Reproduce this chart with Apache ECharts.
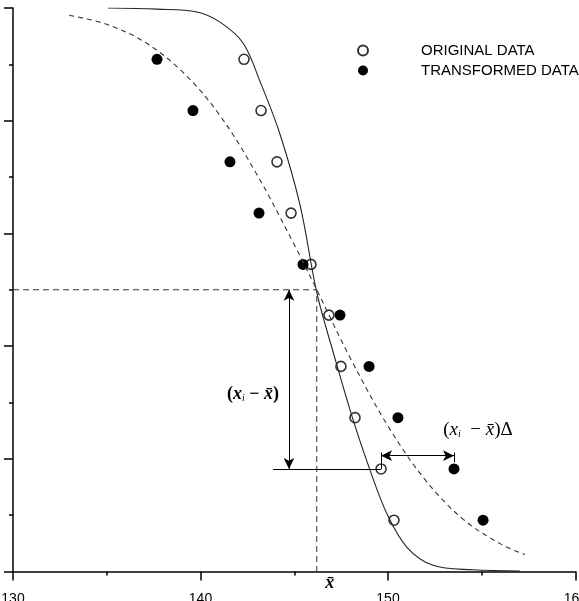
<!DOCTYPE html>
<html lang="en">
<head>
    <meta charset="UTF-8">
    <title>Original vs transformed data</title>
    <style>
        html, body { margin: 0; padding: 0; background: #fff; }
    </style>
</head>
<body>
<div id="chart" style="width: 579px; height: 601px;"></div>
<script src="https://cdn.jsdelivr.net/npm/echarts@6/dist/echarts.min.js"></script>
<script>
    // points
    var probY = [0.909, 0.818, 0.727, 0.636, 0.545, 0.455, 0.364, 0.273, 0.182, 0.091];
    var origX = [142.32, 143.23, 144.08, 144.83, 145.89, 146.85, 147.49, 148.24, 149.63, 150.32];
    var transX = [137.68, 139.60, 141.57, 143.12, 145.47, 147.44, 148.99, 150.53, 153.52, 155.07];

    // solid curve (original fit)
    var solidX = [135.07, 137.68, 139.81, 141.04, 142.27, 143.17, 144.24, 145.31, 146.21, 147.07, 148.13, 149.04, 149.95, 151.01, 152.40, 154.53, 157.04];
    var solidY = [1.000, 0.998, 0.993, 0.975, 0.938, 0.870, 0.776, 0.650, 0.494, 0.390, 0.270, 0.180, 0.102, 0.043, 0.011, 0.003, 0.001];

    // dashed curve (transformed fit)
    var dashX = [133.0, 135.0, 137.0, 139.0, 141.0, 143.0, 145.0, 146.2, 148.0, 150.0, 152.0, 154.0, 156.0, 157.3];
    var dashY = [0.987, 0.971, 0.940, 0.888, 0.811, 0.705, 0.580, 0.500, 0.378, 0.258, 0.162, 0.093, 0.049, 0.030];

    var xTicks = [130, 140, 150, 160];
    var xBar = 146.2;

    function pairs(xs, ys) {
        return xs.map(function (x, i) { return [x, ys[i]]; });
    }

    var chart = echarts.init(document.getElementById('chart'));

    var serif = '"Liberation Serif", "DejaVu Serif", serif';
    var eqRich = function (weight, size) {
        return {
            p: {fontFamily: serif, fontSize: size, fontWeight: weight, color: '#000'},
            x: {fontFamily: serif, fontSize: size, fontStyle: 'italic', fontWeight: weight, color: '#000'},
            s: {fontFamily: serif, fontSize: 10, fontStyle: 'italic', color: '#000', padding: [8, 0, 0, 0]}
        };
    };

    var option = {
        animation: false,
        backgroundColor: '#fff',
        grid: {left: 13, right: 3.5, top: 8, bottom: 29.5, containLabel: false, outerBoundsMode: 'none'},
        legend: {
            orient: 'vertical',
            left: 352,
            top: 38,
            itemWidth: 10,
            itemHeight: 10,
            itemGap: 5,
            textStyle: {
                fontFamily: '"Liberation Sans", Arial, sans-serif',
                fontSize: 15,
                color: '#000',
                padding: [0, 0, 0, 48]
            },
            data: ['ORIGINAL DATA', 'TRANSFORMED DATA']
        },
        xAxis: {
            type: 'value',
            min: 130,
            max: 160,
            interval: 10,
            axisLine: {onZero: false, lineStyle: {color: '#000', width: 1.5}},
            axisTick: {length: 9, lineStyle: {color: '#000', width: 1.5}},
            minorTick: {show: true, splitNumber: 2, length: 4, lineStyle: {color: '#000', width: 1.5}},
            splitLine: {show: false},
            axisLabel: {
                margin: 21,
                fontFamily: '"Liberation Sans", Arial, sans-serif',
                fontSize: 14,
                color: '#000',
                showMaxLabel: true,
                showMinLabel: true,
                hideOverlap: false,
                formatter: function (v) { return xTicks.indexOf(v) >= 0 ? String(v) : ''; }
            }
        },
        yAxis: {
            type: 'value',
            min: 0,
            max: 1,
            interval: 0.2,
            axisLine: {show: true, onZero: false, lineStyle: {color: '#000', width: 1.5}},
            axisTick: {show: true, length: 9, lineStyle: {color: '#000', width: 1.5}},
            minorTick: {show: true, splitNumber: 2, length: 4, lineStyle: {color: '#000', width: 1.5}},
            splitLine: {show: false},
            axisLabel: {show: false}
        },
        series: [
            {
                name: 'solid fit',
                type: 'line',
                data: pairs(solidX, solidY),
                smooth: 0.35,
                showSymbol: false,
                lineStyle: {color: '#222', width: 1.1}
            },
            {
                name: 'dashed fit',
                type: 'line',
                data: pairs(dashX, dashY),
                smooth: 0.35,
                showSymbol: false,
                lineStyle: {color: '#333', width: 1.1, type: [5, 4]}
            },
            {
                // mean guide: 50% level across to x-bar, then down
                name: 'guide',
                type: 'line',
                data: [[130, 0.5], [xBar, 0.5], [xBar, 0]],
                showSymbol: false,
                lineStyle: {color: '#333', width: 1, type: [6, 4]},
                markLine: {
                    silent: true,
                    symbol: ['arrow', 'arrow'],
                    symbolSize: [8, 11],
                    label: {show: false},
                    lineStyle: {color: '#000', type: 'solid', width: 1},
                    data: [
                        [{coord: [144.72, 0.5]}, {coord: [144.72, 0.182]}],
                        [{coord: [149.63, 0.2055]}, {coord: [153.52, 0.2055]}],
                        [{coord: [143.87, 0.182], symbol: 'none'}, {coord: [149.63, 0.182], symbol: 'none'}],
                        [{coord: [149.63, 0.211], symbol: 'none'}, {coord: [149.63, 0.182], symbol: 'none'}],
                        [{coord: [153.52, 0.211], symbol: 'none'}, {coord: [153.52, 0.194], symbol: 'none'}]
                    ]
                },
                markPoint: {
                    silent: true,
                    symbol: 'circle',
                    symbolSize: 0,
                    data: [
                        {
                            coord: [142.8, 0.315],
                            label: {
                                show: true, position: 'inside',
                                formatter: '{p|(}{x|x}{s|i}{p| \u2212 }{x|x\u0304}{p|)}',
                                rich: eqRich('bold', 18)
                            }
                        },
                        {
                            coord: [154.8, 0.251],
                            label: {
                                show: true, position: 'inside',
                                formatter: '{p|(}{x|x}{s|i}{p|  \u2212 }{x|x\u0304}{p|)\u0394}',
                                rich: eqRich('normal', 19)
                            }
                        }
                    ]
                }
            },
            {
                name: 'ORIGINAL DATA',
                type: 'scatter',
                data: pairs(origX, probY),
                symbol: 'circle',
                symbolSize: 10,
                itemStyle: {color: '#fff', borderColor: '#000', borderWidth: 1.6}
            },
            {
                name: 'TRANSFORMED DATA',
                type: 'scatter',
                data: pairs(transX, probY),
                symbol: 'circle',
                symbolSize: 11,
                itemStyle: {color: '#000', opacity: 1}
            }
        ]
    };

    chart.setOption(option);

    // x-bar label below the axis, placed through the axis scale
    var barPos = chart.convertToPixel({gridIndex: 0}, [xBar, 0]);
    chart.setOption({
        graphic: [{
            type: 'text',
            x: barPos[0] + 13,
            y: barPos[1] + 12,
            style: {
                text: 'x\u0304',
                fontFamily: serif,
                fontSize: 18,
                fontStyle: 'italic',
                fontWeight: 'bold',
                fill: '#000',
                align: 'center',
                verticalAlign: 'middle'
            }
        }]
    });
</script>
</body>
</html>
